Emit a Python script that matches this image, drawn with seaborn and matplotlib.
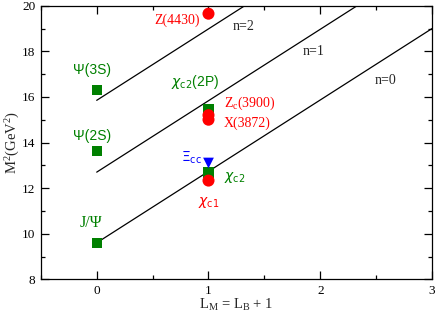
import numpy as np
import pandas as pd
import matplotlib
matplotlib.use("Agg")
import matplotlib.pyplot as plt
from matplotlib.ticker import MultipleLocator
import seaborn as sns

# Regge trajectories (endpoints at L_M = 0 and 3)
line_x = [0, 3]
line_n0 = [9.6, 19.0]
line_n1 = [12.7, 22.1]
line_n2 = [15.85, 25.25]

# Meson states
green_x = [0, 0, 0, 1, 1]
green_y = [9.6, 13.62, 16.3, 12.68, 15.45]
red_x = [1, 1, 1, 1]
red_y = [19.65, 15.2, 15.0, 12.33]
blue_x = [1]
blue_y = [13.1]

sns.set_theme(style="ticks")
plt.rcParams["font.family"] = ["Liberation Serif", "DejaVu Serif"]
plt.rcParams["mathtext.fontset"] = "custom"
plt.rcParams["mathtext.rm"] = "Liberation Serif"
plt.rcParams["mathtext.it"] = "Liberation Serif"

fig = plt.figure(figsize=(4.36, 3.14), dpi=100)
ax = fig.add_axes([0.0936, 0.1105, 0.8974, 0.8713])

lines = pd.DataFrame({
    "x": line_x * 3,
    "y": line_n0 + line_n1 + line_n2,
    "n": ["n=0"] * 2 + ["n=1"] * 2 + ["n=2"] * 2,
})
sns.lineplot(data=lines, x="x", y="y", units="n", estimator=None,
             color="black", lw=0.9, ax=ax, legend=False)

sns.scatterplot(x=green_x, y=green_y, marker="s", s=55, color="#008000",
                edgecolor="none", ax=ax, zorder=3)
sns.scatterplot(x=red_x, y=red_y, marker="o", s=75, color="#ff0000",
                edgecolor="none", ax=ax, zorder=4)
sns.scatterplot(x=blue_x, y=blue_y, marker="v", s=60, color="#0000ff",
                edgecolor="none", ax=ax, zorder=4)

ax.set_xlim(-0.5, 3)
ax.set_ylim(8, 20)
ax.xaxis.set_major_locator(MultipleLocator(1))
ax.xaxis.set_minor_locator(MultipleLocator(0.5))
ax.yaxis.set_major_locator(MultipleLocator(2))
ax.yaxis.set_minor_locator(MultipleLocator(1))
ax.tick_params(which="both", direction="in", top=True, right=True,
               labelsize=9.5, width=0.9, colors="black", pad=4)
ax.tick_params(which="major", length=6)
ax.tick_params(which="minor", length=3)
for sp in ax.spines.values():
    sp.set_linewidth(0.9)
    sp.set_color("black")

ax.set_xlabel(r"L$_\mathrm{M}$ = L$_\mathrm{B}$ + 1", fontsize=10.5, labelpad=0)
ax.set_ylabel(r"M$^2$(GeV$^2$)", fontsize=10.5, labelpad=0)

sans = ["Liberation Sans", "DejaVu Sans"]
green = "#008000"
red = "#ff0000"
fs = 10
ax.text(1.31, 19.1, "n=2", fontsize=fs, ha="center", va="center")
ax.text(1.94, 17.97, "n=1", fontsize=fs, ha="center", va="center")
ax.text(2.58, 16.74, "n=0", fontsize=fs, ha="center", va="center")
ax.text(0.72, 19.37, "Z(4430)", fontsize=fs, color=red, ha="center", va="center")
ax.text(1.14, 15.72, r"Z$_\mathrm{c}$(3900)", fontsize=fs, color=red, ha="left", va="center")
ax.text(1.14, 14.86, "X(3872)", fontsize=fs, color=red, ha="left", va="center")
ax.text(-0.04, 17.2, "Ψ(3S)", fontsize=fs, color=green, ha="center", va="center", family=sans)
ax.text(-0.04, 14.3, "Ψ(2S)", fontsize=fs, color=green, ha="center", va="center", family=sans)
ax.text(-0.05, 10.45, "J/Ψ", fontsize=11.5, color=green, ha="center", va="center")
ax.text(0.88, 16.67, r"$\chi_{\mathsf{c2}}$(2P)", fontsize=fs, color=green, ha="center",
        va="center", family=sans, math_fontfamily="dejavusans")
ax.text(1.14, 12.45, r"$\chi_{\mathsf{c2}}$", fontsize=fs, color=green, ha="left",
        va="center", family=sans, math_fontfamily="dejavusans")
ax.text(1.0, 11.35, r"$\chi_{\mathsf{c1}}$", fontsize=fs, color=red, ha="center",
        va="center", family=sans, math_fontfamily="dejavusans")
ax.text(0.85, 13.35, r"$\Xi_{\mathsf{cc}}$", fontsize=fs, color="#0000ff", ha="center",
        va="center", family=sans, math_fontfamily="dejavusans")

fig.savefig("out.png", dpi=100)
